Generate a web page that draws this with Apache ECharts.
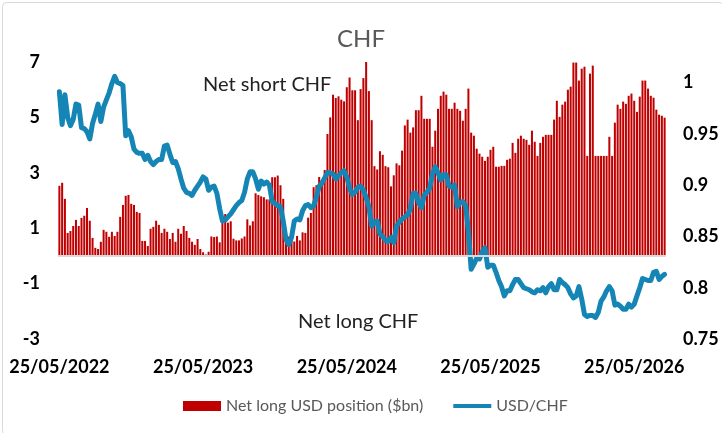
<!DOCTYPE html>
<html>
<head>
<meta charset="utf-8">
<title>CHF</title>
<script src="https://cdn.jsdelivr.net/npm/echarts@6.0.0/dist/echarts.min.js"></script>
<style>
  html, body { margin: 0; padding: 0; background: #fff; }
  #chart { width: 722px; height: 433px; }
</style>
</head>
<body>
<div id="chart"></div>
<script>
// weekly CFTC positioning vs USD/CHF

var tickLabels = ['25/05/2022', '25/05/2023', '25/05/2024', '25/05/2025', '25/05/2026'];

// net long USD position vs CHF ($bn), one bar per week
var netLongUsd = [
    2.53, 2.64, 2.06, 0.83, 0.90, 1.08, 1.30, 1.08, 1.37, 1.45,
    1.73, 1.27, 0.65, 0.29, 0.25, 0.51, 0.94, 0.87, 0.69, 0.87,
    0.72, 0.87, 1.41, 1.84, 2.17, 2.20, 1.88, 1.84, 1.59, 1.55,
    0.54, 0.54, 0.36, 0.98, 1.05, 1.27, 1.12, 0.83, 0.98, 0.87,
    0.61, 0.83, 0.51, 0.98, 0.80, 1.08, 0.90, 0.65, 0.51, 0.40,
    0.61, 0.25, 0.13, 0.05, 0.15, 0.70, 0.68, 0.70, 0.49, 1.42,
    1.51, 1.20, 1.25, 0.62, 0.56, 0.56, 0.63, 0.70, 1.32, 1.10,
    1.25, 2.26, 2.20, 2.15, 2.12, 2.04, 2.04, 2.84, 2.84, 2.90,
    2.55, 2.06, 0.92, 0.70, 0.56, 0.52, 0.72, 0.56, 0.85, 0.83,
    1.38, 1.55, 2.48, 2.55, 2.85, 2.75, 3.10, 4.40, 5.00, 5.82,
    5.70, 5.76, 5.64, 5.58, 6.09, 6.44, 5.98, 5.98, 4.90, 6.02,
    6.42, 7.00, 5.95, 4.90, 3.24, 3.12, 3.78, 3.65, 3.24, 3.20,
    2.51, 2.91, 3.34, 3.27, 3.80, 4.71, 4.92, 4.45, 4.64, 5.26,
    5.26, 5.78, 4.95, 4.95, 4.95, 3.94, 4.52, 5.31, 5.78, 5.93,
    5.82, 5.31, 5.31, 5.53, 5.31, 5.24, 4.88, 5.31, 6.04, 4.45,
    4.34, 3.87, 3.69, 3.58, 3.43, 3.58, 3.83, 3.94, 3.22, 3.22,
    3.25, 3.25, 3.47, 3.51, 4.08, 3.72, 4.23, 4.34, 4.23, 4.19,
    4.01, 4.52, 4.12, 3.61, 4.08, 4.30, 4.37, 4.37, 4.37, 4.92,
    5.60, 5.02, 5.46, 5.57, 6.00, 6.11, 6.98, 6.98, 6.33, 6.76,
    6.83, 3.61, 6.58, 6.87, 3.61, 3.61, 3.61, 3.61, 3.61, 4.30,
    3.61, 4.81, 5.46, 5.31, 5.57, 5.49, 5.78, 5.86, 5.60, 5.20,
    5.75, 6.33, 6.33, 6.04, 5.78, 5.71, 5.28, 5.10, 5.06, 4.99
];

// USD/CHF spot, same weeks (right axis)
var usdChf = [
    0.991, 0.959, 0.988, 0.966, 0.958, 0.964, 0.979, 0.978, 0.956, 0.955,
    0.952, 0.945, 0.960, 0.969, 0.979, 0.962, 0.976, 0.983, 0.990, 0.999,
    1.006, 1.000, 0.999, 0.997, 0.948, 0.953, 0.947, 0.935, 0.932, 0.931,
    0.931, 0.925, 0.929, 0.923, 0.920, 0.923, 0.925, 0.925, 0.938, 0.939,
    0.930, 0.922, 0.923, 0.916, 0.906, 0.897, 0.893, 0.892, 0.890, 0.895,
    0.899, 0.903, 0.908, 0.906, 0.895, 0.898, 0.899, 0.892, 0.877, 0.865,
    0.866, 0.869, 0.872, 0.876, 0.880, 0.883, 0.885, 0.893, 0.906, 0.913,
    0.913, 0.906, 0.896, 0.904, 0.901, 0.903, 0.900, 0.884, 0.882, 0.880,
    0.879, 0.865, 0.847, 0.842, 0.849, 0.865, 0.867, 0.866, 0.875, 0.880,
    0.881, 0.878, 0.880, 0.888, 0.899, 0.902, 0.907, 0.912, 0.912, 0.911,
    0.906, 0.909, 0.912, 0.914, 0.908, 0.897, 0.891, 0.893, 0.898, 0.899,
    0.895, 0.888, 0.879, 0.860, 0.864, 0.865, 0.852, 0.850, 0.846, 0.845,
    0.849, 0.844, 0.860, 0.864, 0.867, 0.869, 0.871, 0.877, 0.892, 0.892,
    0.883, 0.878, 0.890, 0.893, 0.897, 0.911, 0.918, 0.912, 0.905, 0.910,
    0.910, 0.899, 0.898, 0.900, 0.879, 0.883, 0.884, 0.880, 0.855, 0.818,
    0.823, 0.829, 0.828, 0.835, 0.839, 0.820, 0.822, 0.822, 0.815, 0.807,
    0.801, 0.792, 0.797, 0.797, 0.803, 0.808, 0.808, 0.804, 0.800, 0.799,
    0.798, 0.796, 0.795, 0.798, 0.797, 0.800, 0.795, 0.801, 0.804, 0.798,
    0.798, 0.808, 0.805, 0.803, 0.800, 0.794, 0.790, 0.792, 0.801, 0.789,
    0.774, 0.772, 0.773, 0.773, 0.771, 0.776, 0.787, 0.791, 0.797, 0.801,
    0.797, 0.783, 0.784, 0.782, 0.779, 0.779, 0.784, 0.781, 0.784, 0.792,
    0.800, 0.809, 0.808, 0.807, 0.807, 0.815, 0.816, 0.808, 0.811, 0.813
];

// one category per week, labelled once a year
var weeks = [];
var d0 = new Date(2022, 4, 25);
for (var i = 0; i < netLongUsd.length; i++) {
    var d = new Date(d0.getTime() + i * 7 * 86400000);
    weeks.push(('0' + d.getDate()).slice(-2) + '/' + ('0' + (d.getMonth() + 1)).slice(-2) + '/' + d.getFullYear());
}

var FONT = 'Lato';
var BLUE = '#1585B5';

var dom = document.getElementById('chart');
var myChart = echarts.init(dom, null, { renderer: 'canvas' });

var option = {
    backgroundColor: '#ffffff',
    animation: false,
    textStyle: { fontFamily: FONT },
    title: {
        text: 'CHF',
        left: 'center',
        top: 22,
        textStyle: { fontFamily: FONT, fontSize: 24, fontWeight: 'normal', color: '#595959' }
    },
    legend: {
        left: 183,
        top: 398,
        padding: 0,
        itemWidth: 38,
        itemHeight: 10,
        itemGap: 30,
        textStyle: { fontFamily: FONT, fontSize: 16, color: '#595959' },
        data: [
            { name: 'Net long USD position ($bn)', icon: 'rect' },
            // thick flat line swatch, no marker
            { name: 'USD/CHF', icon: 'path://M0,0 M0,3 L38,3 L38,7 L0,7 Z M38,10', itemStyle: { color: BLUE } }
        ]
    },
    grid: {
        left: 58,
        right: 56,
        top: 62,
        bottom: 94
    },
    xAxis: {
        type: 'category',
        data: weeks,
        boundaryGap: true,
        axisLine: { show: false },
        axisTick: { show: false },
        axisLabel: {
            interval: function (index) { return index % 52 === 0; },
            formatter: function (value, index) { return tickLabels[index / 52] || ''; },
            margin: 19,
            fontFamily: FONT,
            fontSize: 18,
            fontWeight: 'bold',
            color: '#000'
        }
    },
    yAxis: [
        {
            type: 'value',
            min: -3,
            max: 7,
            interval: 2,
            splitLine: { show: false },
            axisLine: { show: false },
            axisTick: { show: false },
            axisLabel: { margin: 18, fontFamily: FONT, fontSize: 18, fontWeight: 'bold', color: '#000' }
        },
        {
            type: 'value',
            min: 0.75,
            max: 1.02,
            interval: 0.05,
            position: 'right',
            splitLine: { show: false },
            axisLine: { show: false },
            axisTick: { show: false },
            axisLabel: { margin: 17, showMaxLabel: false, fontFamily: FONT, fontSize: 18, fontWeight: 'bold', color: '#000' }
        }
    ],
    series: [
        {
            name: 'Net long USD position ($bn)',
            type: 'bar',
            yAxisIndex: 0,
            barCategoryGap: '27%',
            itemStyle: { color: '#C00000' },
            data: netLongUsd,
            markLine: {
                silent: true,
                symbol: 'none',
                label: { show: false },
                lineStyle: { color: '#D9D9D9', width: 2, type: 'solid' },
                data: [{ yAxis: 0 }]
            }
        },
        {
            name: 'USD/CHF',
            type: 'line',
            yAxisIndex: 1,
            symbol: 'none',
            smooth: false,
            lineStyle: { color: BLUE, width: 5, cap: 'round', join: 'round' },
            itemStyle: { color: BLUE },
            data: usdChf
        }
    ],
    graphic: [
        {
            type: 'rect',
            left: 0, top: 0,
            shape: { width: 721, height: 432, r: 4 },
            style: { fill: 'none', stroke: '#D9D9D9', lineWidth: 1 },
            silent: true
        },
        {
            type: 'text',
            left: 203,
            top: 75,
            style: { text: 'Net short CHF', fontFamily: FONT, fontSize: 20, fill: '#222' }
        },
        {
            type: 'text',
            left: 298,
            top: 312,
            style: { text: 'Net long CHF', fontFamily: FONT, fontSize: 20, fill: '#222' }
        }
    ]
};

if (option && typeof option === 'object') {
    myChart.setOption(option, true);
}
</script>
</body>
</html>
